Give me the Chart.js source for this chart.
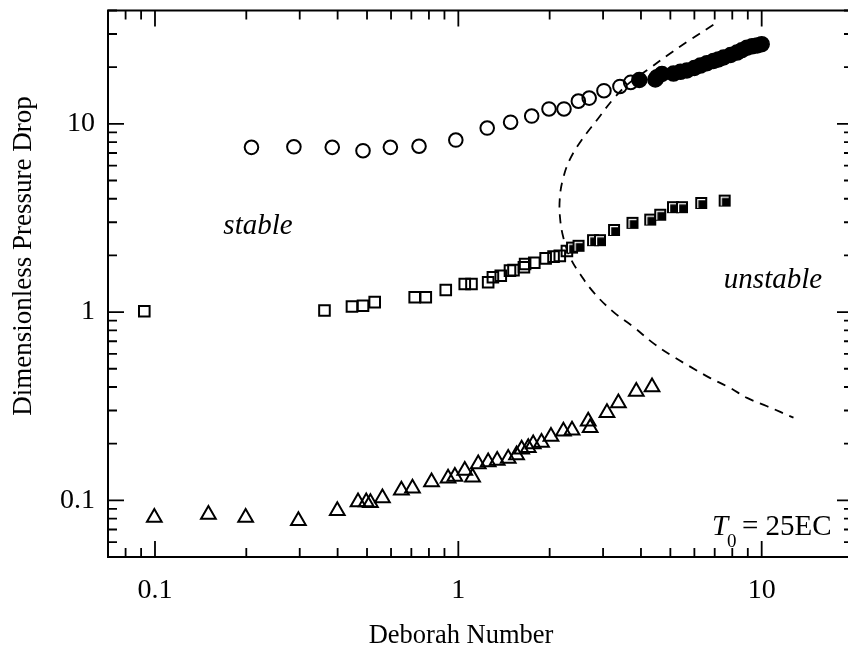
<!DOCTYPE html>
<html>
<head>
<meta charset="utf-8">
<script src="https://cdn.jsdelivr.net/npm/chart.js@4.4.1/dist/chart.umd.min.js"></script>
<style>
html,body{margin:0;padding:0;background:#fff;overflow:hidden;}
#wrap{width:880px;height:655px;}
</style>
</head>
<body>
<div id="wrap"><canvas id="c" width="880" height="655"></canvas></div>
<script>
// ---- data ----
const openCircleX = [0.208,0.287,0.384,0.485,0.597,0.742,0.981,1.245,1.487,1.745,1.99,2.23,2.487,2.70,3.02,3.41,3.70];
const openCircleY = [7.5,7.55,7.5,7.2,7.5,7.6,8.2,9.5,10.2,11.0,12.0,12.0,13.2,13.7,15.0,15.8,16.6];

const filledCircleX = [3.95,4.46,4.52,4.69,5.12,5.4,5.67,6.0,6.28,6.6,6.94,7.2,7.49,7.9,8.29,8.6,8.95,9.3,9.66,10.0];
const filledCircleY = [17.1,17.2,17.7,18.4,18.5,18.9,19.2,19.8,20.4,21.0,21.6,22.0,22.5,23.2,23.9,24.6,25.4,25.8,26.1,26.5];

const openSquareX = [0.0922,0.362,0.446,0.485,0.53,0.718,0.781,0.909,1.05,1.105,1.254,1.30,1.38,1.48,1.52,1.645,1.66,1.78,1.94,2.06,2.16,2.28];
const openSquareY = [1.01,1.02,1.07,1.08,1.13,1.2,1.2,1.31,1.41,1.41,1.44,1.53,1.56,1.66,1.67,1.73,1.80,1.83,1.93,1.97,1.99,2.11];

const filledSquareX = [2.37,2.49,2.78,2.93,3.26,3.75,4.29,4.63,5.10,5.46,6.32,7.55];
const filledSquareY = [2.20,2.25,2.41,2.41,2.73,2.98,3.10,3.29,3.61,3.61,3.80,3.91];

const triangleX = [0.0995,0.150,0.199,0.297,0.399,0.467,0.497,0.513,0.562,0.649,0.706,0.816,0.925,0.974,1.05,1.114,1.163,1.254,1.343,1.46,1.556,1.617,1.70,1.765,1.88,2.02,2.22,2.37,2.68,2.72,3.09,3.37,3.86,4.35];
const triangleY = [0.081,0.084,0.081,0.078,0.088,0.098,0.098,0.097,0.103,0.113,0.116,0.125,0.131,0.134,0.144,0.1325,0.156,0.160,0.163,0.167,0.174,0.187,0.190,0.199,0.203,0.218,0.233,0.236,0.263,0.243,0.292,0.329,0.379,0.40];

const boundaryX = [6.93,5.74,4.87,4.29,3.68,3.25,2.86,2.55,2.33,2.21,2.16,2.164,2.22,2.33,2.52,2.82,3.25,3.78,4.40,5.12,5.81,6.77,7.88,8.95,10.42,12.73];
const boundaryY = [33.6,27.6,23.0,19.8,16.6,13.6,10.45,8.2,6.45,5.06,4.02,3.17,2.48,1.97,1.59,1.25,1.0,0.834,0.682,0.579,0.513,0.446,0.395,0.35,0.316,0.275];

const xMajorTicks = [0.1, 1, 10];
const xTickLabels = ['0.1', '1', '10'];
const yMajorTicks = [0.1, 1, 10];
const yTickLabels = ['0.1', '1', '10'];
const minorMultipliers = [1,2,3,4,5,6,7,8,9];
const decades = [0.01, 0.1, 1, 10];

const xTitle = 'Deborah Number';
const yTitle = 'Dimensionless Pressure Drop';
const stableLabel = 'stable';
const unstableLabel = 'unstable';

// ---- helpers ----
const pts = (xs, ys) => xs.map((x, i) => ({x: x, y: ys[i]}));
const X_MIN = 0.07, X_MAX = 20, Y_MIN = 0.05, Y_MAX = 40;
function tickList(min, max) {
  const out = [];
  decades.forEach(d => minorMultipliers.forEach(m => {
    const v = +(d * m).toPrecision(6);
    if (v >= min - 1e-12 && v <= max + 1e-12) out.push(v);
  }));
  return out;
}
function isMajor(v, majors) { return majors.some(m => Math.abs(v - m) < 1e-9 * m); }
function labelFor(v, majors, labels) {
  for (let i = 0; i < majors.length; i++) if (Math.abs(v - majors[i]) < 1e-9 * majors[i]) return labels[i];
  return null;
}

const filledSquareImg = (() => {
  const c = document.createElement('canvas');
  c.width = 14; c.height = 14;
  const g = c.getContext('2d');
  g.fillStyle = '#000';
  g.fillRect(1, 1, 12, 12);
  g.strokeStyle = '#fff';
  g.lineWidth = 1.2;
  g.beginPath();
  g.moveTo(3.6, 12); g.lineTo(3.6, 3.6); g.lineTo(11, 3.6);
  g.stroke();
  return c;
})();

const FONT = '"Liberation Serif", "Times New Roman", serif';

const framePlugin = {
  id: 'frame',
  beforeDatasetsDraw(chart) {
    const {ctx, chartArea: a, scales} = chart;
    ctx.save();
    ctx.strokeStyle = '#000';
    ctx.lineWidth = 2;
    ctx.strokeRect(a.left, a.top, a.right - a.left, a.bottom - a.top);
    ctx.lineWidth = 1.8;
    ctx.beginPath();
    tickList(X_MIN, X_MAX).forEach(v => {
      const px = scales.x.getPixelForValue(v);
      const len = isMajor(v, xMajorTicks) ? 16 : 9;
      ctx.moveTo(px, a.bottom); ctx.lineTo(px, a.bottom - len);
      ctx.moveTo(px, a.top); ctx.lineTo(px, a.top + len);
    });
    tickList(Y_MIN, Y_MAX).forEach(v => {
      const py = scales.y.getPixelForValue(v);
      const len = isMajor(v, yMajorTicks) ? 16 : 9;
      ctx.moveTo(a.left, py); ctx.lineTo(a.left + len, py);
      ctx.moveTo(a.right, py); ctx.lineTo(a.right - len, py);
    });
    ctx.stroke();
    ctx.restore();
  },
  afterDraw(chart) {
    const {ctx} = chart;
    ctx.save();
    ctx.fillStyle = '#000';
    // axis titles
    ctx.font = '26.5px ' + FONT;
    ctx.textAlign = 'center';
    ctx.textBaseline = 'middle';
    ctx.fillText(xTitle, 461, 636);
    ctx.save();
    ctx.translate(24, 256);
    ctx.rotate(-Math.PI / 2);
    ctx.font = '27px ' + FONT;
    ctx.fillText(yTitle, 0, 0);
    ctx.restore();
    // region labels
    ctx.font = 'italic 29px ' + FONT;
    ctx.fillText(stableLabel, 258, 226);
    ctx.fillText(unstableLabel, 773, 280);
    // temperature note
    ctx.textAlign = 'left';
    ctx.textBaseline = 'alphabetic';
    ctx.font = 'italic 29px ' + FONT;
    ctx.fillText('T', 712, 535);
    ctx.font = '19px ' + FONT;
    ctx.fillText('0', 727, 547);
    ctx.font = '29px ' + FONT;
    ctx.fillText('= 25EC', 742, 535);
    ctx.restore();
  }
};

new Chart(document.getElementById('c'), {
  type: 'scatter',
  data: {
    datasets: [
      { label: 'filled circles', data: pts(filledCircleX, filledCircleY), pointStyle: 'circle', pointRadius: 7.5,
        backgroundColor: '#000', borderColor: '#000', borderWidth: 1.5, showLine: false },
      { label: 'filled squares', data: pts(filledSquareX, filledSquareY), pointStyle: filledSquareImg,
        backgroundColor: '#000', borderColor: '#000', showLine: false },
      { label: 'open circles', data: pts(openCircleX, openCircleY), pointStyle: 'circle', pointRadius: 6.8,
        backgroundColor: 'rgba(0,0,0,0)', borderColor: '#000', borderWidth: 2, showLine: false },
      { label: 'open squares', data: pts(openSquareX, openSquareY), pointStyle: 'rect', pointRadius: 7.5,
        backgroundColor: 'rgba(0,0,0,0)', borderColor: '#000', borderWidth: 2, showLine: false },
      { label: 'triangles', data: pts(triangleX, triangleY), pointStyle: 'triangle', pointRadius: 8.5,
        backgroundColor: 'rgba(0,0,0,0)', borderColor: '#000', borderWidth: 2, showLine: false },
      { label: 'boundary', data: pts(boundaryX, boundaryY), showLine: true, pointRadius: 0,
        borderColor: '#000', borderWidth: 1.8, borderDash: [9, 7], tension: 0.4, fill: false }
    ]
  },
  options: {
    responsive: false,
    animation: false,
    devicePixelRatio: 1,
    events: [],
    layout: { padding: { top: 7, right: 27, left: 0, bottom: 0 } },
    plugins: { legend: { display: false }, tooltip: { enabled: false }, title: { display: false } },
    scales: {
      x: {
        type: 'logarithmic', min: X_MIN, max: X_MAX,
        grid: { display: false, drawTicks: false },
        border: { display: false },
        ticks: {
          color: '#000', font: { family: FONT, size: 28 }, padding: 17,
          autoSkip: false, maxRotation: 0, minRotation: 0,
          callback: (v) => labelFor(v, xMajorTicks, xTickLabels)
        },
        afterBuildTicks: (s) => { s.ticks = tickList(X_MIN, X_MAX).map(v => ({value: v})); },
        afterFit: (s) => { s.height = 98; s.paddingLeft = 0; s.paddingRight = 0; }
      },
      y: {
        type: 'logarithmic', min: Y_MIN, max: Y_MAX,
        grid: { display: false, drawTicks: false },
        border: { display: false },
        ticks: {
          color: '#000', font: { family: FONT, size: 28 }, padding: 13,
          autoSkip: false,
          callback: (v) => labelFor(v, yMajorTicks, yTickLabels)
        },
        afterBuildTicks: (s) => { s.ticks = tickList(Y_MIN, Y_MAX).map(v => ({value: v})); },
        afterFit: (s) => { s.width = 108; s.paddingTop = 0; s.paddingBottom = 0; }
      }
    }
  },
  plugins: [framePlugin]
});
</script>
</body>
</html>
